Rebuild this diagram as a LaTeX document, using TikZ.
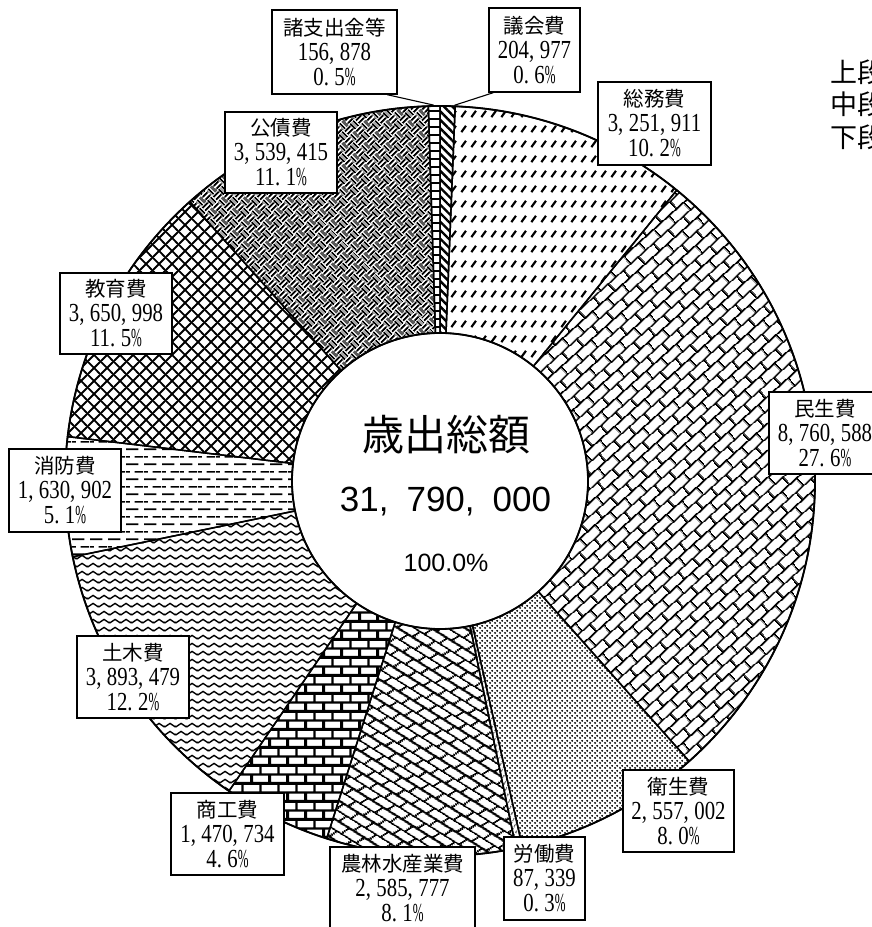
\documentclass[tikz,border=0pt]{standalone}
\usepackage{fontspec}
\usepackage{graphicx}
\usetikzlibrary{patterns.meta}
\newfontfamily\jpf{Noto Sans CJK JP}
\newfontfamily\serf{Liberation Serif}
\newfontfamily\sanf{Liberation Sans}
\newcommand\CmK{,\kern6.9pt\relax}
\newcommand\DtK{.\kern6.9pt\relax}
\newcommand\PcK{\scalebox{0.62}[1]{\%}}
\newcommand\NumK[1]{\scalebox{0.8}[1]{\serf\fontsize{26}{25}\selectfont #1}}
\newcommand\DoSlice[3]{\draw[slicest,pattern=#3] (#1:375) arc[start angle=#1,end angle=#2,radius=375] -- (#2:148) arc[start angle=#2,end angle=#1,radius=148] -- cycle;}

\tikzdeclarepattern{
  name=diagbrick,
  bottom left={(0pt,0pt)}, top right={(20pt,20pt)},
  tile size={(20pt,20pt)},
  tile transformation={rotate=42},
  code={\draw[line width=1.7pt] (-1pt,0pt)--(21pt,0pt) (-1pt,10pt)--(21pt,10pt) (-1pt,20pt)--(21pt,20pt) (0pt,0pt)--(0pt,10pt) (20pt,0pt)--(20pt,10pt) (10pt,10pt)--(10pt,20pt);}
}
\tikzdeclarepattern{
  name=hbrick,
  bottom left={(0pt,0pt)}, top right={(18pt,18pt)},
  tile size={(18pt,18pt)},
  code={\draw[line width=2.3pt] (-1pt,0pt)--(19pt,0pt) (-1pt,9pt)--(19pt,9pt) (-1pt,18pt)--(19pt,18pt) (0pt,0pt)--(0pt,9pt) (18pt,0pt)--(18pt,9pt) (9pt,9pt)--(9pt,18pt);}
}
\tikzdeclarepattern{
  name=shingle,
  bottom left={(0pt,0pt)}, top right={(18pt,18pt)},
  tile size={(18pt,18pt)},
  tile transformation={rotate=-32},
  code={\draw[line width=1.8pt] (-1pt,0pt)--(19pt,0pt) (-1pt,9pt)--(19pt,9pt) (-1pt,18pt)--(19pt,18pt) (0pt,0pt)--(4pt,9pt) (18pt,0pt)--(22pt,9pt) (9pt,9pt)--(13pt,18pt) (-9pt,9pt)--(-5pt,18pt);}
}
\tikzdeclarepattern{
  name=weave,
  bottom left={(0pt,0pt)}, top right={(16pt,16pt)},
  tile size={(16pt,16pt)},
  tile transformation={rotate=45},
  code={\draw[line width=2.1pt]
     (0pt,2pt)--(8pt,2pt) (0pt,6pt)--(8pt,6pt)
     (10pt,0pt)--(10pt,8pt) (14pt,0pt)--(14pt,8pt)
     (2pt,8pt)--(2pt,16pt) (6pt,8pt)--(6pt,16pt)
     (8pt,10pt)--(16pt,10pt) (8pt,14pt)--(16pt,14pt);}
}
\tikzdeclarepattern{
  name=zigzag,
  bottom left={(0pt,0pt)}, top right={(11pt,8.4pt)},
  tile size={(11pt,8.4pt)},
  code={\draw[line width=1.5pt] (-5.5pt,6pt)--(0pt,2.4pt)--(5.5pt,6pt)--(11pt,2.4pt)--(16.5pt,6pt);}
}
\tikzdeclarepattern{
  name=hdash,
  bottom left={(0pt,0pt)}, top right={(18pt,15.4pt)},
  tile size={(18pt,15.4pt)},
  code={\draw[line width=1.6pt] (0pt,3.85pt)--(13pt,3.85pt) (9pt,11.55pt)--(18pt,11.55pt) (0pt,11.55pt)--(4pt,11.55pt);}
}
\tikzdeclarepattern{
  name=slashdash,
  bottom left={(0pt,0pt)}, top right={(10pt,14.5pt)},
  tile size={(10pt,14.5pt)},
  code={\draw[line width=2.3pt] (1.5pt,4pt)--(6.5pt,10.5pt);}
}
\tikzdeclarepattern{
  name=dotsp,
  bottom left={(0pt,0pt)}, top right={(4.6pt,4.6pt)},
  tile size={(4.6pt,4.6pt)},
  code={\fill (1.15pt,1.15pt) circle (1.1pt); \fill (3.45pt,3.45pt) circle (1.1pt);}
}
\tikzdeclarepattern{
  name=diagx,
  bottom left={(0pt,0pt)}, top right={(12.5pt,12.5pt)},
  tile size={(12.5pt,12.5pt)},
  code={\draw[line width=1.9pt] (-1pt,-1pt)--(13.5pt,13.5pt) (-1pt,13.5pt)--(13.5pt,-1pt);}
}

\tikzset{
  slicest/.style={draw=black,line width=1.5pt,line join=round},
  lbl/.style={draw=black,line width=1.4pt,fill=white,align=center,inner sep=0pt,
    minimum height=82pt,font=\serf\fontsize{20.5}{25}\selectfont},
  leader/.style={draw=black,line width=1.1pt}
}

\begin{document}
\begin{tikzpicture}[x=1pt,y=1pt]
\useasboundingbox (0,0) rectangle (872,927);
\clip (0,0) rectangle (872,927);
\fill[white] (0,0) rectangle (872,927);

\begin{scope}[shift={(440,446)}]
\DoSlice{90}{87.679}{{Lines[angle=-45,distance=6pt,line width=2.4pt]}}
\DoSlice{87.679}{50.853}{slashdash}
\DoSlice{50.853}{-48.356}{diagbrick}
\DoSlice{-48.356}{-77.312}{dotsp}
\DoSlice{-77.312}{-78.301}{{Lines[angle=60,distance=4pt,line width=1pt]}}
\DoSlice{-78.301}{-107.583}{shingle}
\DoSlice{-107.583}{-124.238}{hbrick}
\DoSlice{-124.238}{-168.329}{zigzag}
\DoSlice{-168.329}{-186.798}{hdash}
\DoSlice{-186.798}{-228.143}{diagx}
\DoSlice{-228.143}{-268.225}{weave}
\DoSlice{-268.225}{-270}{{Lines[angle=0,distance=8pt,line width=1.5pt]}}
\draw[line width=1.8pt] (0,0) circle[radius=375];
\draw[line width=1.8pt] (0,0) circle[radius=148];
\coordinate (ptShoshi) at (91:376);
\coordinate (ptGikai) at (87.8:376);
\end{scope}

% centre text
\node[font=\jpf\fontsize{42}{46}\selectfont,inner sep=0pt] (ttl) at (446,492) {歳出総額};
\node[font=\sanf\fontsize{35}{40}\selectfont,inner sep=0pt] (tot) at (445.5,425) {31,\kern18pt\relax 790,\kern18pt\relax 000};
\node[font=\sanf\fontsize{25}{28}\selectfont,inner sep=0pt] (pct) at (446,364) {100.0\%};

% legend (cut at the right edge, as in the reference)
\node[anchor=west,font=\jpf\fontsize{27}{30}\selectfont,inner sep=0pt] (leg1) at (830,855) {上段};
\node[anchor=west,font=\jpf\fontsize{27}{30}\selectfont,inner sep=0pt] (leg2) at (830,823) {中段};
\node[anchor=west,font=\jpf\fontsize{27}{30}\selectfont,inner sep=0pt] (leg3) at (830,790) {下段};

% labels
\node[lbl,minimum width=125pt,minimum height=84pt] (lblShoshi) at (334.5,875) {{\jpf 諸支出金等}\\\NumK{156\CmK 878}\\\NumK{0\DtK 5\PcK}};
\node[lbl,minimum width=91pt,minimum height=84pt] (lblGikai) at (534.5,877) {{\jpf 議会費}\\\NumK{204\CmK 977}\\\NumK{0\DtK 6\PcK}};
\node[lbl,minimum width=113pt,minimum height=83pt] (lblSomu) at (654.5,803.5) {{\jpf 総務費}\\\NumK{3\CmK 251\CmK 911}\\\NumK{10\DtK 2\PcK}};
\node[lbl,minimum width=112pt,minimum height=81pt] (lblKosai) at (281,774.5) {{\jpf 公債費}\\\NumK{3\CmK 539\CmK 415}\\\NumK{11\DtK 1\PcK}};
\node[lbl,minimum width=112pt,minimum height=81pt] (lblKyoiku) at (116,613.5) {{\jpf 教育費}\\\NumK{3\CmK 650\CmK 998}\\\NumK{11\DtK 5\PcK}};
\node[lbl,minimum width=112pt,minimum height=83pt] (lblShobo) at (65,436.5) {{\jpf 消防費}\\\NumK{1\CmK 630\CmK 902}\\\NumK{5\DtK 1\PcK}};
\node[lbl,minimum width=112pt] (lblMinsei) at (825,494) {{\jpf 民生費}\\\NumK{8\CmK 760\CmK 588}\\\NumK{27\DtK 6\PcK}};
\node[lbl,minimum width=111pt] (lblEisei) at (678.5,116) {{\jpf 衛生費}\\\NumK{2\CmK 557\CmK 002}\\\NumK{8\DtK 0\PcK}};
\node[lbl,minimum width=81pt,minimum height=83pt] (lblRodo) at (544.5,48.5) {{\jpf 労働費}\\\NumK{87\CmK 339}\\\NumK{0\DtK 3\PcK}};
\node[lbl,minimum width=145pt,minimum height=83pt] (lblNorin) at (402.5,38.5) {{\jpf 農林水産業費}\\\NumK{2\CmK 585\CmK 777}\\\NumK{8\DtK 1\PcK}};
\node[lbl,minimum width=113pt] (lblShoko) at (227.5,93) {{\jpf 商工費}\\\NumK{1\CmK 470\CmK 734}\\\NumK{4\DtK 6\PcK}};
\node[lbl,minimum width=112pt] (lblDoboku) at (133,250) {{\jpf 土木費}\\\NumK{3\CmK 893\CmK 479}\\\NumK{12\DtK 2\PcK}};

% leader lines
\draw[leader] (lblShoshi.-39) -- (ptShoshi);
\draw[leader] (lblGikai.-134) -- (ptGikai);
\end{tikzpicture}
\end{document}
